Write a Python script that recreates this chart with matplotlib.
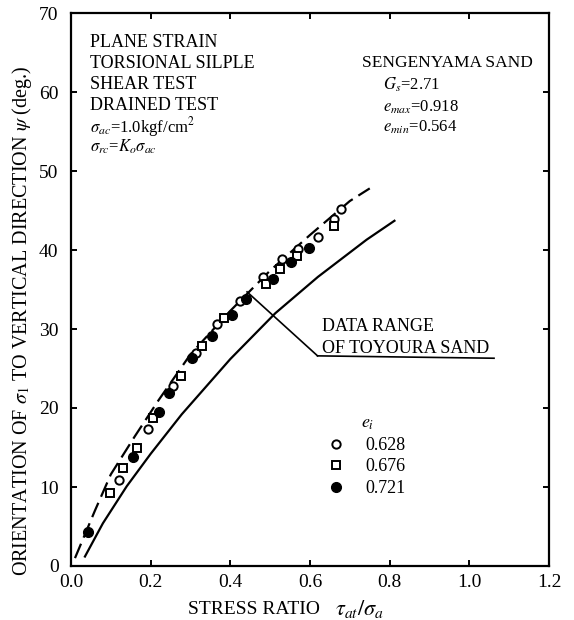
import matplotlib
matplotlib.use("Agg")
import matplotlib.pyplot as plt

plt.rcParams['font.family'] = ['Liberation Serif', 'DejaVu Serif']
plt.rcParams['mathtext.fontset'] = 'stix'

# ---- data ----
circ_x = [0.121, 0.193, 0.256, 0.314, 0.367, 0.425, 0.483, 0.529, 0.570, 0.620, 0.659, 0.678]
circ_y = [10.9, 17.3, 22.8, 27.0, 30.6, 33.6, 36.6, 38.9, 40.1, 41.6, 43.9, 45.2]

sq_x = [0.098, 0.131, 0.166, 0.207, 0.275, 0.328, 0.385, 0.489, 0.525, 0.567, 0.661]
sq_y = [9.2, 12.4, 15.0, 18.7, 24.1, 27.8, 31.4, 35.7, 37.6, 39.2, 43.0]

fill_x = [0.043, 0.155, 0.221, 0.245, 0.305, 0.355, 0.405, 0.439, 0.507, 0.552, 0.598]
fill_y = [4.3, 13.8, 19.5, 21.9, 26.3, 29.1, 31.8, 33.8, 36.3, 38.5, 40.3]

upper_x = [0.01, 0.06, 0.10, 0.16, 0.22, 0.30, 0.40, 0.50, 0.60, 0.70, 0.75]
upper_y = [1.0, 7.0, 11.6, 16.4, 21.0, 26.8, 32.3, 37.4, 41.9, 46.2, 47.8]

lower_x = [0.035, 0.08, 0.14, 0.20, 0.278, 0.40, 0.513, 0.62, 0.742, 0.812]
lower_y = [1.2, 5.4, 10.1, 14.2, 19.2, 26.2, 32.0, 36.6, 41.3, 43.7]

legend_labels = ['0.628', '0.676', '0.721']
xticks = [0.0, 0.2, 0.4, 0.6, 0.8, 1.0, 1.2]
xtick_labels = ['0.0', '0.2', '0.4', '0.6', '0.8', '1.0', '1.2']
yticks = [0, 10, 20, 30, 40, 50, 60, 70]

W, H = 574, 620
fig = plt.figure(figsize=(W / 100, H / 100), dpi=100)
ax = fig.add_axes([71 / W, 1 - 566 / H, (549 - 71) / W, (566 - 13) / H])

ax.plot(upper_x, upper_y, color='black', lw=1.6, linestyle=(0, (7, 3)))
ax.plot(lower_x, lower_y, color='black', lw=1.6)

h1, = ax.plot(circ_x, circ_y, 'o', ms=6, mfc='white', mec='black', mew=1.4, linestyle='none')
h2, = ax.plot(sq_x, sq_y, 's', ms=6, mfc='white', mec='black', mew=1.4, linestyle='none')
h3, = ax.plot(fill_x, fill_y, 'o', ms=7, mfc='black', mec='black', linestyle='none')

ax.set_xlim(0, 1.2)
ax.set_ylim(0, 70)
ax.set_xticks(xticks)
ax.set_xticklabels(xtick_labels)
ax.set_yticks(yticks)
ax.tick_params(direction='in', length=4, width=1.4, top=True, right=True,
               labelsize=14, colors='black')
ax.tick_params(axis='x', pad=6)
ax.tick_params(axis='y', pad=9)
for s in ax.spines.values():
    s.set_linewidth(1.6)

# annotation
ax.plot([0.619, 0.442], [26.6, 34.7], color='black', lw=1.2)
ax.plot([0.619, 1.062], [26.6, 26.3], color='black', lw=1.2)
ax.text(0.63, 29.7, 'DATA RANGE', fontsize=13, va='baseline', ha='left')
ax.text(0.63, 26.95, 'OF TOYOURA SAND', fontsize=13, va='baseline', ha='left')

leg = ax.legend([h1, h2, h3], legend_labels, title='$e_i$', frameon=False,
                fontsize=13, title_fontsize=13, loc='upper left',
                bbox_to_anchor=(0.54, 0.273), labelspacing=0.25,
                handlelength=0.8, handletextpad=1.2, borderpad=0, borderaxespad=0)

def ftext(x, y, s, **kw):
    fig.text(x / W, 1 - y / H, s, va='baseline', ha='left', **kw)

ftext(90, 47, 'PLANE STRAIN', fontsize=13)
ftext(90, 68, 'TORSIONAL SILPLE', fontsize=13)
ftext(90, 89, 'SHEAR TEST', fontsize=13)
ftext(90, 110, 'DRAINED TEST', fontsize=13)
ftext(90, 132, r'$\sigma_{ac}$=1.0kgf/cm$^2$', fontsize=12)
ftext(90, 152, r'$\sigma_{rc}$=$K_o\sigma_{ac}$', fontsize=12)

ftext(362, 67, 'SENGENYAMA SAND', fontsize=12.5)
ftext(383, 90, r'$G_s$=2.71', fontsize=12)
ftext(383, 112, r'$e_{max}$=0.918', fontsize=12)
ftext(383, 132, r'$e_{min}$=0.564', fontsize=12)

fig.text(22 / W, 1 - 321 / H, r'ORIENTATION OF $\sigma_1$ TO VERTICAL DIRECTION $\psi$ (deg.)',
         rotation=90, ha='center', va='center', fontsize=14.5)
fig.text(188 / W, 1 - 609 / H, 'STRESS RATIO', ha='left', va='center', fontsize=14)
fig.text(335 / W, 1 - 609 / H, r'$\tau_{at}/\sigma_a$', ha='left', va='center', fontsize=16)

fig.savefig('out.png', dpi=100)
